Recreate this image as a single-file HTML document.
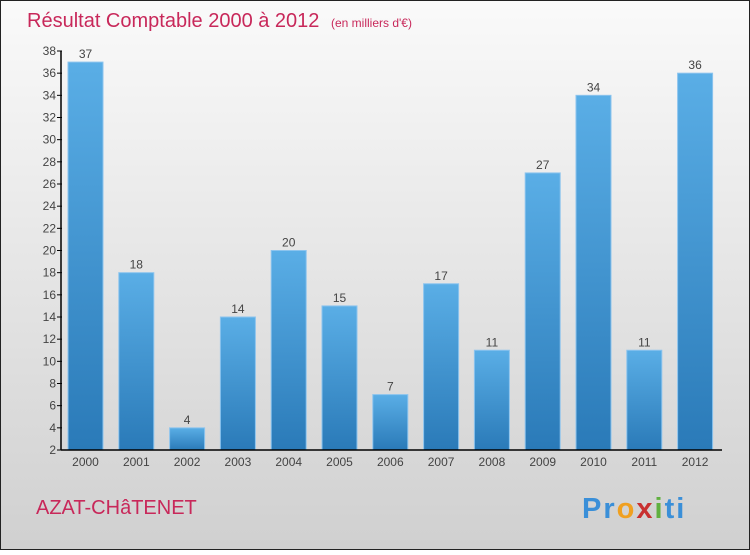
<!DOCTYPE html>
<html><head><meta charset="utf-8"><style>
body{margin:0;width:750px;height:550px;overflow:hidden;font-family:"Liberation Sans",sans-serif;}
</style></head><body>
<svg width="750" height="550" xmlns="http://www.w3.org/2000/svg">
<defs>
<linearGradient id="bg" x1="0" y1="0" x2="0" y2="1"><stop offset="0" stop-color="#fafafa"/><stop offset="1" stop-color="#d0d0d0"/></linearGradient>
<linearGradient id="bar" x1="0" y1="0" x2="0" y2="1"><stop offset="0" stop-color="#5aaee6"/><stop offset="1" stop-color="#2a7ab8"/></linearGradient>
</defs>
<rect x="0.5" y="0.5" width="749" height="549" fill="url(#bg)" stroke="#222"/>
<text x="27" y="27" font-size="20" fill="#c8285a">Résultat Comptable 2000 à 2012 <tspan font-size="12" dx="6">(en milliers d'€)</tspan></text>
<g id="plot"></g>
<text x="36" y="514" font-size="20" fill="#c8285a">AZAT-CHâTENET</text>
<text x="582" y="518" font-size="29" font-weight="bold" letter-spacing="2" fill="#3a8fd8">Pr<tspan fill="#f0a020">o</tspan><tspan fill="#c83030">x</tspan><tspan fill="#60b040">i</tspan>ti</text>
</svg>
<script>
const categories=["2000","2001","2002","2003","2004","2005","2006","2007","2008","2009","2010","2011","2012"];
const values=[37,18,4,14,20,15,7,17,11,27,34,11,36];
const yTicks=[2,4,6,8,10,12,14,16,18,20,22,24,26,28,30,32,34,36,38];
const NS="http://www.w3.org/2000/svg";
const g=document.getElementById('plot');
const yMin=2,yMax=38,y0=450,y1=51;
const y=v=>y0-(v-yMin)/(yMax-yMin)*(y0-y1);
const step=50.8,x=i=>68+i*step,bw=35;
function mk(t,a){const e=document.createElementNS(NS,t);for(const k in a)e.setAttribute(k,a[k]);g.appendChild(e);return e;}
categories.forEach((c,i)=>{
  const r=mk('rect',{x:x(i),y:y(values[i]),width:bw,height:y0-y(values[i]),fill:'url(#bar)',stroke:'#8cc4ee','stroke-width':1});
  
  
  const t=mk('text',{x:x(i)+bw/2,y:y(values[i])-4,'font-size':12,fill:'#444','text-anchor':'middle'});
  t.textContent=values[i];
  
  
  const l=mk('text',{x:x(i)+bw/2,y:466,'font-size':12,fill:'#444','text-anchor':'middle'});
  l.textContent=c;
  
  
});
yTicks.forEach(v=>{
  const tk=mk('line',{x1:57,x2:62,y1:y(v),y2:y(v),stroke:'#000'});
  
  
  const t=mk('text',{x:56,y:y(v)+4,'font-size':12,fill:'#444','text-anchor':'end'});
  t.textContent=v;
  
  
});
const ya=mk('line',{x1:61,x2:61,y1:y1,y2:y0,stroke:'#000','stroke-width':1.5});


const xa=mk('line',{x1:61,x2:722,y1:y0,y2:y0,stroke:'#000','stroke-width':1.5});


</script>
</body></html>
